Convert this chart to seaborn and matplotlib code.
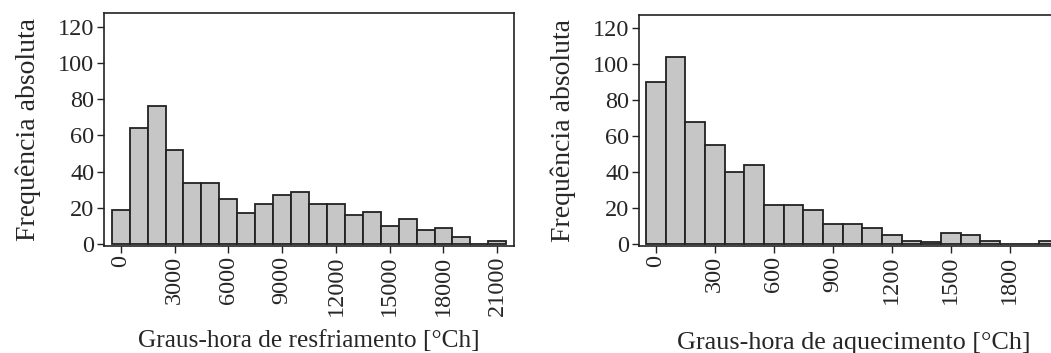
import numpy as np
import matplotlib
matplotlib.use("Agg")
import matplotlib.pyplot as plt
import seaborn as sns

# ---- data ----
cool_centers = [0, 1000, 2000, 3000, 4000, 5000, 6000, 7000, 8000, 9000, 10000,
                11000, 12000, 13000, 14000, 15000, 16000, 17000, 18000, 19000, 20000, 21000]
cool_counts = [19, 64, 76, 52, 34, 34, 25, 17, 22, 27, 29, 22, 22, 16, 18, 10, 14, 8, 9, 4, 0, 2]
cool_ticks = [0, 3000, 6000, 9000, 12000, 15000, 18000, 21000]

heat_centers = [0, 100, 200, 300, 400, 500, 600, 700, 800, 900, 1000, 1100, 1200,
                1300, 1400, 1500, 1600, 1700, 1800, 1900, 2000]
heat_counts = [90, 104, 68, 55, 40, 44, 22, 22, 19, 11, 11, 9, 5, 2, 1, 6, 5, 2, 0, 0, 2]
heat_ticks = [0, 300, 600, 900, 1200, 1500, 1800]

y_ticks = [0, 20, 40, 60, 80, 100, 120]
ylabel = "Frequência absoluta"
xlabel_cool = "Graus-hora de resfriamento [°Ch]"
xlabel_heat = "Graus-hora de aquecimento [°Ch]"

sns.set_theme(style="white")
plt.rcParams['font.family'] = ['Liberation Serif', 'DejaVu Serif']

fig = plt.figure(figsize=(10.51, 3.53), dpi=100)

face = '#c6c6c6'
edge = '#222222'
tick_fs = 17.5

def setup(ax, centers, counts, width, ticks, xlim, xlabel, xfs, xpad):
    edges = [c - width / 2 for c in centers] + [centers[-1] + width / 2]
    sns.histplot(x=centers, weights=counts, bins=edges, ax=ax, color=face,
                 edgecolor=edge, linewidth=1.3, alpha=1)
    ax.set_xlim(*xlim)
    ax.set_ylim(-0.8, 127.3)
    ax.set_xticks(ticks)
    ax.set_xticklabels([str(t) for t in ticks], rotation=90, fontsize=tick_fs)
    ax.set_yticks(y_ticks)
    ax.set_yticklabels([str(t) for t in y_ticks], fontsize=tick_fs)
    ax.tick_params(axis='both', which='both', direction='out', length=5, width=1,
                   color='#222222', pad=2, left=True, bottom=True)
    for s in ax.spines.values():
        s.set_color('#222222')
        s.set_linewidth(1.2)
    ax.set_ylabel(ylabel, fontsize=20, labelpad=12)
    ax.set_xlabel(xlabel, fontsize=xfs, labelpad=xpad)
    ax.grid(False)

ax1 = fig.add_axes([0.099, 0.304, 0.390, 0.658])
setup(ax1, cool_centers, cool_counts, 1000, cool_ticks, (-930, 21930), xlabel_cool, 18.3, 10)

ax2 = fig.add_axes([0.608, 0.304, 0.409, 0.654])
setup(ax2, heat_centers, heat_counts, 100, heat_ticks, (-85, 2100), xlabel_heat, 18.8, 20)

fig.savefig("out.png", dpi=100)
